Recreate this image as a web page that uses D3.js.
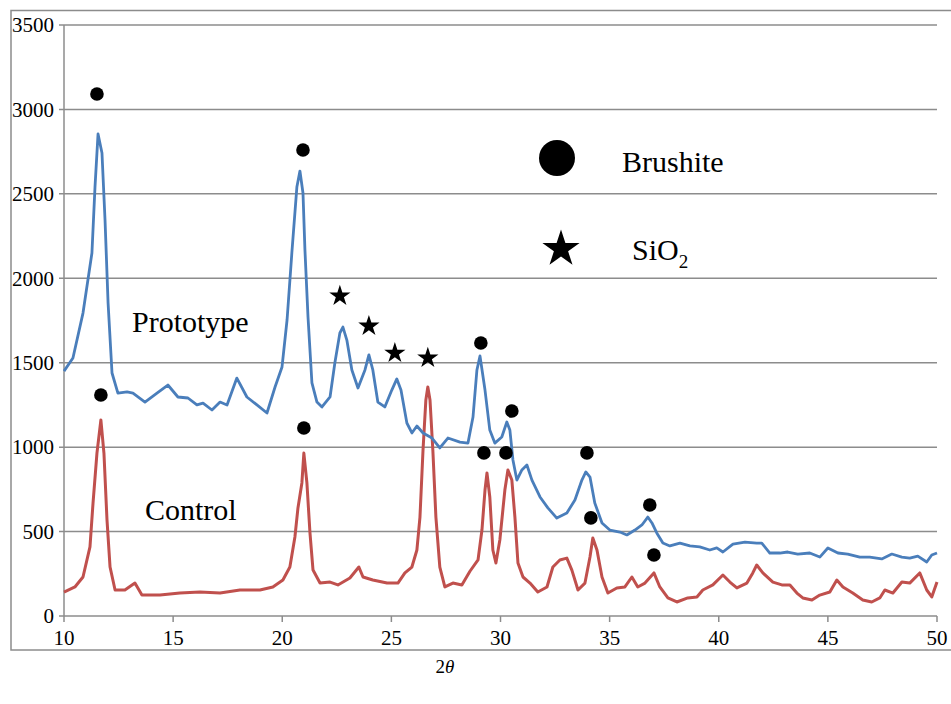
<!DOCTYPE html>
<html lang="en">
<head>
<meta charset="UTF-8">
<title>XRD Prototype vs Control</title>
<script src="https://d3js.org/d3.v7.min.js"></script>
<style>
  body { margin: 0; background: #fff; }
  svg text { font-family: 'Liberation Serif', 'Times New Roman', serif; fill: #000; }
  .grid line { stroke: #8c8c8c; stroke-width: 1.5; }
  .axisLine { stroke: #8c8c8c; stroke-width: 1.5; fill: none; }
  .tickLabel { font-size: 21px; }
</style>
</head>
<body>
<script>
// tick values
const xTicks = [10, 15, 20, 25, 30, 35, 40, 45, 50];
const yTicks = [0, 500, 1000, 1500, 2000, 2500, 3000, 3500];

// Prototype pattern (2theta, intensity)
const prototypeData = [
  [10.0,1450],[10.41,1528],[10.87,1794],[11.28,2150],[11.42,2540],[11.56,2855],[11.74,2742],[11.88,2345],
  [12.02,1853],[12.2,1439],[12.47,1320],[12.89,1327],[13.16,1320],[13.71,1267],[14.26,1320],[14.76,1368],
  [15.22,1297],[15.68,1291],[16.09,1250],[16.37,1261],[16.78,1220],[17.15,1267],[17.47,1250],[17.92,1409],
  [18.38,1297],[18.84,1250],[19.3,1202],[19.67,1356],[19.99,1475],[20.22,1753],[20.44,2150],[20.67,2540],
  [20.81,2635],[20.95,2505],[21.04,2167],[21.18,1771],[21.36,1380],[21.59,1267],[21.82,1238],[22.19,1297],
  [22.41,1498],[22.64,1676],[22.78,1711],[22.96,1634],[23.19,1457],[23.47,1350],[23.79,1457],[23.97,1546],
  [24.15,1457],[24.38,1267],[24.7,1238],[25.02,1338],[25.25,1404],[25.44,1338],[25.71,1143],[25.94,1084],
  [26.17,1125],[26.45,1084],[26.86,1054],[27.22,995],[27.59,1054],[28.14,1030],[28.51,1024],[28.74,1178],
  [28.92,1457],[29.06,1540],[29.29,1338],[29.51,1101],[29.74,1024],[30.06,1060],[30.29,1149],[30.43,1101],
  [30.57,924],[30.75,805],[30.98,865],[31.21,894],[31.44,805],[31.81,705],[32.17,640],[32.58,580],
  [33.04,610],[33.41,687],[33.73,805],[33.91,853],[34.1,823],[34.32,669],[34.65,551],[35.01,509],
  [35.47,497],[35.79,480],[36.16,509],[36.48,539],[36.75,586],[36.94,551],[37.16,492],[37.44,432],
  [37.76,415],[38.22,432],[38.68,415],[39.13,409],[39.59,391],[39.91,403],[40.19,379],[40.65,426],
  [41.2,438],[41.74,432],[41.97,432],[42.34,373],[42.8,373],[43.16,379],[43.62,367],[44.17,373],
  [44.63,349],[45.0,403],[45.46,373],[45.91,367],[46.46,349],[46.92,349],[47.47,338],[47.93,367],
  [48.39,349],[48.75,343],[49.12,355],[49.53,320],[49.76,361],[50.0,373]
];

// Control pattern
const controlData = [
  [10.0,142],[10.5,172],[10.87,231],[11.19,409],[11.33,669],[11.51,965],[11.69,1161],[11.83,965],
  [11.97,569],[12.11,290],[12.34,154],[12.79,154],[13.25,195],[13.57,124],[14.4,124],[15.31,136],
  [16.23,142],[17.15,136],[18.06,154],[18.98,154],[19.57,172],[20.03,213],[20.35,290],[20.58,468],
  [20.72,640],[20.9,788],[20.99,965],[21.13,788],[21.27,492],[21.41,272],[21.73,195],[22.19,201],
  [22.55,184],[23.1,225],[23.51,290],[23.7,231],[24.15,213],[24.8,195],[25.3,195],[25.62,255],
  [25.94,290],[26.17,391],[26.31,586],[26.45,983],[26.58,1279],[26.67,1356],[26.77,1279],[26.9,983],
  [27.04,586],[27.22,290],[27.45,172],[27.82,195],[28.23,184],[28.6,265],[28.97,332],[29.15,509],
  [29.29,746],[29.38,847],[29.51,705],[29.65,391],[29.79,314],[29.97,450],[30.2,746],[30.34,865],
  [30.52,805],[30.66,586],[30.8,314],[31.03,231],[31.35,195],[31.71,142],[32.13,172],[32.4,290],
  [32.72,332],[33.04,343],[33.27,272],[33.55,154],[33.87,195],[34.1,349],[34.23,462],[34.42,391],
  [34.65,231],[34.92,136],[35.33,166],[35.7,172],[36.02,231],[36.29,172],[36.62,195],[37.03,255],
  [37.3,172],[37.67,107],[38.08,83],[38.58,107],[39.0,113],[39.27,154],[39.73,184],[40.19,243],
  [40.51,201],[40.83,166],[41.29,195],[41.56,255],[41.74,302],[42.02,255],[42.48,201],[42.89,184],
  [43.26,184],[43.58,136],[43.85,107],[44.27,95],[44.63,124],[45.09,142],[45.41,213],[45.69,172],
  [46.14,136],[46.6,95],[47.01,83],[47.38,107],[47.61,154],[47.98,136],[48.39,201],[48.75,195],
  [49.21,255],[49.53,154],[49.76,113],[50.0,201]
];

// peak markers
const brushiteMarks = [
  [11.51,3091],[20.95,2760],[11.69,1309],[20.99,1113],[29.1,1617],[30.52,1214],
  [29.24,966],[30.25,966],[33.96,966],[34.14,581],[36.84,657],[37.03,361]
];
const sio2Marks = [[22.64,1901],[23.97,1723],[25.16,1563],[26.67,1534]];

const width = 951, height = 704;
const x = d3.scaleLinear().domain([10, 50]).range([64, 937]);
const y = d3.scaleLinear().domain([0, 3500]).range([616, 25]);

const svg = d3.select('body').append('svg')
  .attr('width', width)
  .attr('height', height);

// outer frame
svg.append('rect')
  .attr('x', 11).attr('y', 10.5)
  .attr('width', 960).attr('height', 639.5)
  .attr('fill', 'none').attr('stroke', '#8c8c8c').attr('stroke-width', 1.5);

// horizontal gridlines (with tick stubs to the left)
svg.append('g').attr('class', 'grid')
  .selectAll('line').data(yTicks.filter(d => d > 0)).join('line')
  .attr('x1', 59).attr('x2', x(50))
  .attr('y1', d => y(d)).attr('y2', d => y(d));

// axes lines
svg.append('line').attr('class', 'axisLine')
  .attr('x1', x(10)).attr('x2', x(10)).attr('y1', y(3500)).attr('y2', y(0));
svg.append('line').attr('class', 'axisLine')
  .attr('x1', 59).attr('x2', x(50)).attr('y1', y(0)).attr('y2', y(0));
svg.append('g').selectAll('line').data(xTicks).join('line')
  .attr('class', 'axisLine')
  .attr('x1', d => x(d)).attr('x2', d => x(d))
  .attr('y1', y(0)).attr('y2', y(0) + 6);

// tick labels
svg.append('g').selectAll('text').data(yTicks).join('text')
  .attr('class', 'tickLabel')
  .attr('x', 54).attr('y', d => y(d)).attr('dy', '0.35em')
  .attr('text-anchor', 'end')
  .text(d => d);
svg.append('g').selectAll('text').data(xTicks).join('text')
  .attr('class', 'tickLabel')
  .attr('x', d => x(d)).attr('y', 645)
  .attr('text-anchor', 'middle')
  .text(d => d);

// x title
const xt = svg.append('text')
  .attr('x', 445).attr('y', 673)
  .attr('text-anchor', 'middle')
  .style('font-size', '19px');
xt.append('tspan').text('2');
xt.append('tspan').style('font-style', 'italic').text('θ');

// curves
const line = d3.line().x(d => x(d[0])).y(d => y(d[1]));
svg.append('path').datum(controlData)
  .attr('d', line).attr('fill', 'none')
  .attr('stroke', '#c0504d').attr('stroke-width', 3).attr('stroke-linejoin', 'round');
svg.append('path').datum(prototypeData)
  .attr('d', line).attr('fill', 'none')
  .attr('stroke', '#4a7ebb').attr('stroke-width', 2.8).attr('stroke-linejoin', 'round');

// markers
svg.append('g').selectAll('circle').data(brushiteMarks).join('circle')
  .attr('cx', d => x(d[0])).attr('cy', d => y(d[1]))
  .attr('r', 6.8).attr('fill', '#000');
const star = d3.symbol().type(d3.symbolStar);
svg.append('g').selectAll('path').data(sio2Marks).join('path')
  .attr('d', star.size(140)())
  .attr('transform', d => `translate(${x(d[0])},${y(d[1]) + 1})`)
  .attr('fill', '#000');

// series labels
svg.append('text').attr('x', 132).attr('y', 332)
  .style('font-size', '30px').text('Prototype');
svg.append('text').attr('x', 145).attr('y', 520)
  .style('font-size', '30px').text('Control');

// legend
svg.append('circle').attr('cx', 557).attr('cy', 158).attr('r', 18).attr('fill', '#000');
svg.append('text').attr('x', 622).attr('y', 172)
  .style('font-size', '30px').text('Brushite');
svg.append('path')
  .attr('d', d3.symbol().type(d3.symbolStar).size(430)())
  .attr('transform', 'translate(561,249)')
  .attr('fill', '#000');
const st = svg.append('text').attr('x', 632).attr('y', 260).style('font-size', '30px');
st.append('tspan').text('SiO');
st.append('tspan').attr('dy', 8).style('font-size', '19px').text('2');
</script>
</body>
</html>
